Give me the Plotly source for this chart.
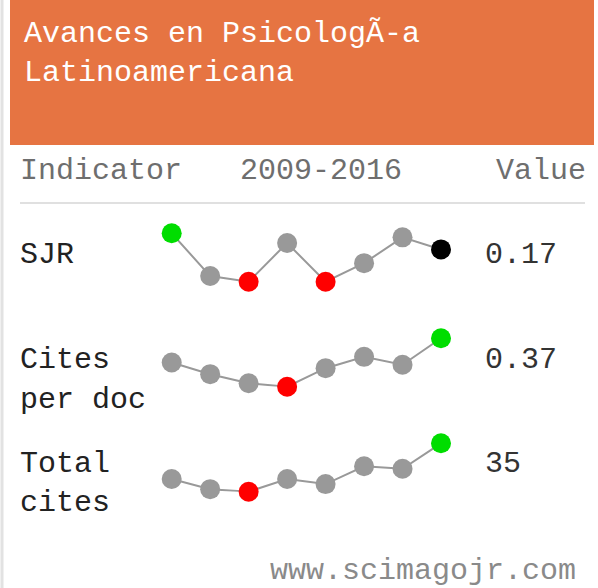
import plotly.graph_objects as go

W, H = 598, 588

years = [2009, 2010, 2011, 2012, 2013, 2014, 2015, 2016]
sjr = [0.19, 0.137, 0.13, 0.178, 0.13, 0.153, 0.185, 0.17]
cites_per_doc = [0.285, 0.244, 0.212, 0.20, 0.265, 0.305, 0.277, 0.37]
total_cites = [21, 17, 16, 21, 19, 26, 25, 35]

indicator_labels = [["SJR"], ["Cites", "per doc"], ["Total", "cites"]]
value_labels = ["0.17", "0.37", "35"]
title_lines = ["Avances en PsicologÃ-a", "Latinoamericana"]
header_labels = ["Indicator", "2009-2016", "Value"]
footer = "www.scimagojr.com"

ORANGE = "#E67442"
GRAY = "#999999"
RED = "#FF0000"
GREEN = "#00DD00"
FONT = "Liberation Mono"
FS = 30


def py(p):
    return 1 - p / H


def px(p):
    return p / W


def colors_for(vals):
    mx, mn = max(vals), min(vals)
    cols = []
    for i, v in enumerate(vals):
        if v == mx:
            cols.append(GREEN)
        elif v == mn:
            cols.append(RED)
        elif i == len(vals) - 1:
            cols.append("#000000")
        else:
            cols.append(GRAY)
    return cols


series = [sjr, cites_per_doc, total_cites]
bands = [(233.3, 281.7), (338.3, 386.7), (443.3, 491.7)]

fig = go.Figure()
layout_axes = {}
for i, (vals, (top, bot)) in enumerate(zip(series, bands)):
    yname = "y" if i == 0 else f"y{i+1}"
    fig.add_trace(go.Scatter(
        x=years, y=vals, mode="lines+markers", yaxis=yname, xaxis="x",
        line=dict(color=GRAY, width=2),
        marker=dict(size=20, color=colors_for(vals), line=dict(width=0)),
        cliponaxis=False, hoverinfo="skip", showlegend=False,
    ))
    key = "yaxis" if i == 0 else f"yaxis{i+1}"
    layout_axes[key] = dict(
        domain=[py(bot), py(top)], range=[min(vals), max(vals)],
        visible=False, fixedrange=True,
        **({} if i == 0 else {"anchor": "x"}),
    )

# x scale: 2009 at pixel 171.7, 2016 at pixel 441
ppy = (441 - 171.7) / 7
x0 = 2009 - 171.7 / ppy
x1 = 2009 + (W - 171.7) / ppy

shapes = [
    dict(type="line", xref="paper", yref="paper", x0=px(2), x1=px(2), y0=0, y1=1,
         line=dict(color="#E2E2E2", width=3)),
    dict(type="rect", xref="paper", yref="paper", x0=px(10), x1=px(594), y0=py(145), y1=py(0),
         fillcolor=ORANGE, line=dict(width=0), layer="below"),
    dict(type="line", xref="paper", yref="paper", x0=px(20), x1=px(585), y0=py(203), y1=py(203),
         line=dict(color="#E0E0E0", width=2)),
]

ann = []


def text(t, x, y, color, anchor="left", size=FS):
    ann.append(dict(text=t, x=px(x), y=py(y), xref="paper", yref="paper",
                    xanchor=anchor, yanchor="middle", showarrow=False,
                    font=dict(family=FONT, size=size, color=color)))


text(title_lines[0], 22, 34, "white")
text(title_lines[1], 22, 73, "white")
text(header_labels[0], 18, 171, "#6E6E6E")
text(header_labels[1], 321, 171, "#6E6E6E", anchor="center")
text(header_labels[2], 588, 171, "#6E6E6E", anchor="right")

row_y = [(255,), (360, 400), (464, 503)]
for lines, ys in zip(indicator_labels, row_y):
    for t, yy in zip(lines, ys):
        text(t, 18, yy, "#222222")
for v, yy in zip(value_labels, [255, 360, 464]):
    text(v, 483, yy, "#333333")
text(footer, 578, 571, "#8A8A8A", anchor="right")

fig.update_layout(
    width=W, height=H, margin=dict(l=0, r=0, t=0, b=0),
    paper_bgcolor="white", plot_bgcolor="rgba(0,0,0,0)",
    xaxis=dict(domain=[0, 1], range=[x0, x1], visible=False, fixedrange=True),
    shapes=shapes, annotations=ann, **layout_axes,
)

fig.write_html("out.html", config={"displayModeBar": False},
               post_script="document.body.style.margin='0';document.body.style.overflow='hidden';")
